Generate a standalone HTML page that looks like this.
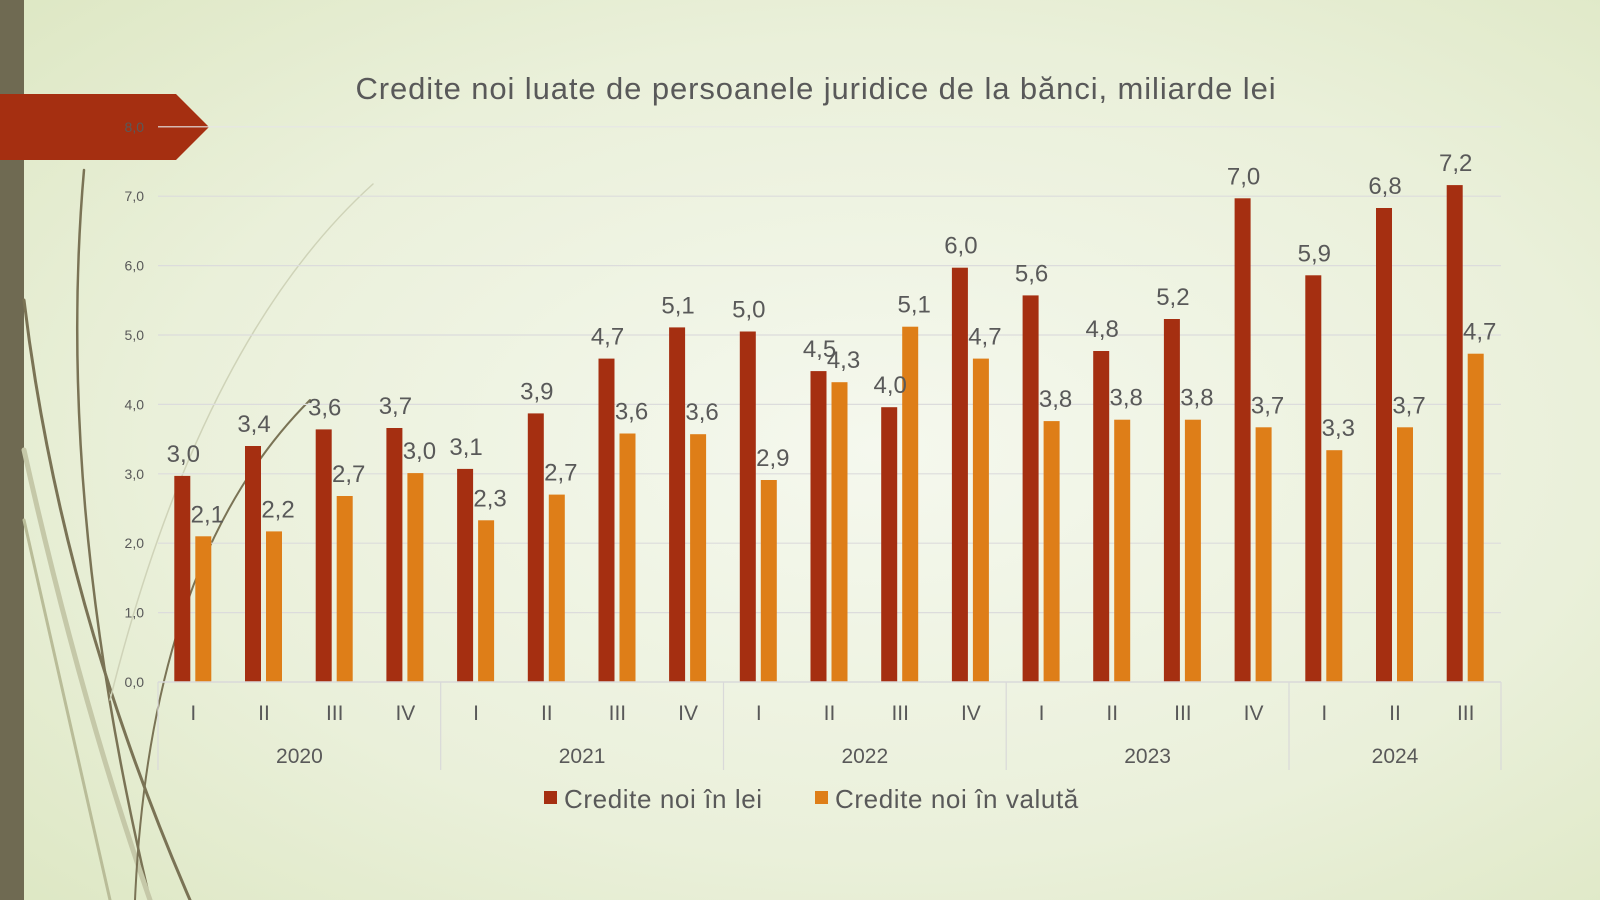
<!DOCTYPE html>
<html><head><meta charset="utf-8"><style>
html,body{margin:0;padding:0;width:1600px;height:900px;overflow:hidden}
svg{display:block}
text{font-family:"Liberation Sans",sans-serif;fill:#595959}
</style></head><body>
<svg width="1600" height="900" viewBox="0 0 1600 900" xmlns="http://www.w3.org/2000/svg">
<defs>
<radialGradient id="bg" cx="0.55" cy="0.5" r="0.75">
<stop offset="0" stop-color="#f5f8ee"/><stop offset="0.6" stop-color="#eaf0da"/><stop offset="1" stop-color="#dde7c3"/>
</radialGradient>
</defs>
<rect width="1600" height="900" fill="url(#bg)"/>
<rect x="0" y="0" width="24" height="900" fill="#6f6a52"/>
<g fill="none" stroke-linecap="round">
<path d="M84 170 Q55 500 150 900" stroke="#7a7355" stroke-width="2.5"/>
<path d="M24 300 Q60 600 190 900" stroke="#7a7355" stroke-width="3"/>
<path d="M24 450 Q80 700 150 900" stroke="#c5c8a8" stroke-width="5"/>
<path d="M24 520 Q70 720 110 900" stroke="#b9bc98" stroke-width="3"/>
<path d="M373 184 Q200 340 110 700" stroke="#cfd3b8" stroke-width="1.5"/>
<path d="M310 400 Q150 560 135 900" stroke="#7a7355" stroke-width="2"/>
</g>
<path d="M0 94 L176 94 L209 127 L176 160 L0 160 Z" fill="#a52f11"/>
<text x="816" y="99" font-size="31" letter-spacing="0.9" text-anchor="middle">Credite noi luate de persoanele juridice de la bănci, miliarde lei</text>

<g stroke="#dcdcdc" stroke-width="1.2">
<line x1="158" x2="1501" y1="612.6" y2="612.6"/>
<line x1="158" x2="1501" y1="543.2" y2="543.2"/>
<line x1="158" x2="1501" y1="473.8" y2="473.8"/>
<line x1="158" x2="1501" y1="404.4" y2="404.4"/>
<line x1="158" x2="1501" y1="335" y2="335"/>
<line x1="158" x2="1501" y1="265.6" y2="265.6"/>
<line x1="158" x2="1501" y1="196.2" y2="196.2"/>
<line x1="158" x2="1501" y1="126.8" y2="126.8" stroke="#e6e6e6"/>
</g>
<g font-size="14" text-anchor="end">
<text x="144" y="687">0,0</text><text x="144" y="617.6">1,0</text><text x="144" y="548.2">2,0</text>
<text x="144" y="478.8">3,0</text><text x="144" y="409.4">4,0</text><text x="144" y="340">5,0</text>
<text x="144" y="270.6">6,0</text><text x="144" y="201.2">7,0</text><text x="144" y="131.8" fill="#6b3a2a">8,0</text>
</g>

<g fill="#a52f11">
<rect x="174.3" y="475.9" width="16" height="206.1"/>
<rect x="245" y="446" width="16" height="236"/>
<rect x="315.7" y="429.4" width="16" height="252.6"/>
<rect x="386.4" y="428" width="16" height="254"/>
<rect x="457.1" y="468.9" width="16" height="213.1"/>
<rect x="527.8" y="413.4" width="16" height="268.6"/>
<rect x="598.5" y="358.6" width="16" height="323.4"/>
<rect x="669.1" y="327.4" width="16" height="354.6"/>
<rect x="739.8" y="331.5" width="16" height="350.5"/>
<rect x="810.5" y="371.1" width="16" height="310.9"/>
<rect x="881.2" y="407.2" width="16" height="274.8"/>
<rect x="951.9" y="267.7" width="16" height="414.3"/>
<rect x="1022.6" y="295.4" width="16" height="386.6"/>
<rect x="1093.2" y="351" width="16" height="331"/>
<rect x="1163.9" y="319" width="16" height="363"/>
<rect x="1234.6" y="198.3" width="16" height="483.7"/>
<rect x="1305.3" y="275.3" width="16" height="406.7"/>
<rect x="1376" y="208" width="16" height="474"/>
<rect x="1446.7" y="185.1" width="16" height="496.9"/>
</g>
<g fill="#de7e18">
<rect x="195.3" y="536.3" width="16" height="145.7"/>
<rect x="266" y="531.4" width="16" height="150.6"/>
<rect x="336.7" y="496" width="16" height="186"/>
<rect x="407.4" y="473.1" width="16" height="208.9"/>
<rect x="478.1" y="520.3" width="16" height="161.7"/>
<rect x="548.8" y="494.6" width="16" height="187.4"/>
<rect x="619.5" y="433.5" width="16" height="248.5"/>
<rect x="690.1" y="434.2" width="16" height="247.8"/>
<rect x="760.8" y="480" width="16" height="202"/>
<rect x="831.5" y="382.2" width="16" height="299.8"/>
<rect x="902.2" y="326.7" width="16" height="355.3"/>
<rect x="972.9" y="358.6" width="16" height="323.4"/>
<rect x="1043.6" y="421.1" width="16" height="260.9"/>
<rect x="1114.2" y="419.7" width="16" height="262.3"/>
<rect x="1184.9" y="419.7" width="16" height="262.3"/>
<rect x="1255.6" y="427.3" width="16" height="254.7"/>
<rect x="1326.3" y="450.2" width="16" height="231.8"/>
<rect x="1397" y="427.3" width="16" height="254.7"/>
<rect x="1467.7" y="353.7" width="16" height="328.3"/>
</g>
<g font-size="24" text-anchor="middle" transform="translate(1,-4)">
<text x="182.3" y="465.9">3,0</text><text x="206.3" y="526.3">2,1</text>
<text x="253" y="436">3,4</text><text x="277" y="521.4">2,2</text>
<text x="323.7" y="419.4">3,6</text><text x="347.7" y="486">2,7</text>
<text x="394.4" y="418">3,7</text><text x="418.4" y="463.1">3,0</text>
<text x="465.1" y="458.9">3,1</text><text x="489.1" y="510.3">2,3</text>
<text x="535.8" y="403.4">3,9</text><text x="559.8" y="484.6">2,7</text>
<text x="606.5" y="348.6">4,7</text><text x="630.5" y="423.5">3,6</text>
<text x="677.1" y="317.4">5,1</text><text x="701.1" y="424.2">3,6</text>
<text x="747.8" y="321.5">5,0</text><text x="771.8" y="470">2,9</text>
<text x="818.5" y="361.1">4,5</text><text x="842.5" y="372.2">4,3</text>
<text x="889.2" y="397.2">4,0</text><text x="913.2" y="316.7">5,1</text>
<text x="959.9" y="257.7">6,0</text><text x="983.9" y="348.6">4,7</text>
<text x="1030.6" y="285.4">5,6</text><text x="1054.6" y="411.1">3,8</text>
<text x="1101.2" y="341">4,8</text><text x="1125.2" y="409.7">3,8</text>
<text x="1171.9" y="309">5,2</text><text x="1195.9" y="409.7">3,8</text>
<text x="1242.6" y="188.3">7,0</text><text x="1266.6" y="417.3">3,7</text>
<text x="1313.3" y="265.3">5,9</text><text x="1337.3" y="440.2">3,3</text>
<text x="1384" y="198">6,8</text><text x="1408" y="417.3">3,7</text>
<text x="1454.7" y="175.1">7,2</text><text x="1478.7" y="343.7">4,7</text>
</g>

<line x1="158" x2="1501" y1="682" y2="682" stroke="#d9d9d9" stroke-width="1.5"/>
<g stroke="#d9d9d9" stroke-width="1.2">
<line x1="158" x2="158" y1="682" y2="770"/>
<line x1="440.7" x2="440.7" y1="682" y2="770"/>
<line x1="723.5" x2="723.5" y1="682" y2="770"/>
<line x1="1006.2" x2="1006.2" y1="682" y2="770"/>
<line x1="1289" x2="1289" y1="682" y2="770"/>
<line x1="1501" x2="1501" y1="682" y2="770"/>
</g>
<g font-size="21" text-anchor="middle">
<text x="193.3" y="720">I</text><text x="264" y="720">II</text><text x="334.7" y="720">III</text><text x="405.4" y="720">IV</text>
<text x="476.1" y="720">I</text><text x="546.8" y="720">II</text><text x="617.4" y="720">III</text><text x="688.1" y="720">IV</text>
<text x="758.8" y="720">I</text><text x="829.5" y="720">II</text><text x="900.2" y="720">III</text><text x="970.9" y="720">IV</text>
<text x="1041.6" y="720">I</text><text x="1112.2" y="720">II</text><text x="1182.9" y="720">III</text><text x="1253.6" y="720">IV</text>
<text x="1324.3" y="720">I</text><text x="1395" y="720">II</text><text x="1465.7" y="720">III</text>
<text x="299.4" y="763">2020</text><text x="582.1" y="763">2021</text><text x="864.8" y="763">2022</text>
<text x="1147.6" y="763">2023</text><text x="1395" y="763">2024</text>
</g>

<rect x="544" y="791" width="13" height="13" fill="#a52f11"/>
<text x="564" y="808" font-size="26" letter-spacing="0.6">Credite noi în lei</text>
<rect x="815" y="791" width="13" height="13" fill="#de7e18"/>
<text x="835" y="808" font-size="26" letter-spacing="0.6">Credite noi în valută</text>
</svg>
</body></html>
